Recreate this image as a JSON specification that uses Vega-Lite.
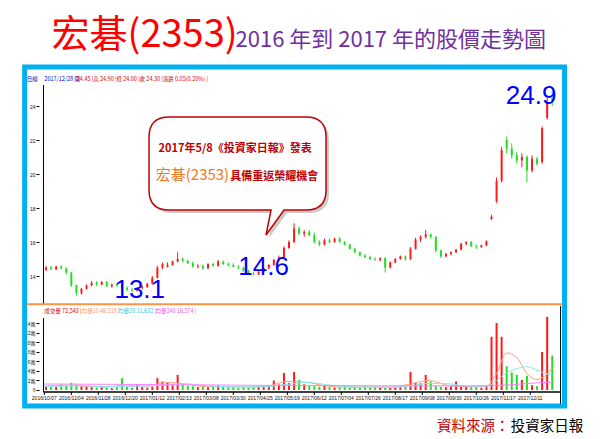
{
  "$schema": "https://vega.github.io/schema/vega-lite/v6.json",
  "width": 600,
  "height": 439,
  "padding": 0,
  "autosize": {"type": "none"},
  "background": "white",
  "config": {
    "view": {"stroke": null},
    "font": "Noto Sans CJK TC",
    "axis": {"grid": false, "domain": false, "labelFontSize": 5, "labelFont": "Liberation Sans", "labelColor": "#111111", "tickColor": "#000000", "tickSize": 3, "labelPadding": 1}
  },
  "data": {"values": [{}]},
  "datasets": {
    "k": [
      {"i":1,"o":14.35,"h":14.6,"l":14.3,"c":14.5,"v":0.8},
      {"i":4,"o":14.5,"h":14.6,"l":14.35,"c":14.4,"v":0.6},
      {"i":7,"o":14.4,"h":14.6,"l":14.35,"c":14.55,"v":0.7},
      {"i":10,"o":14.55,"h":14.65,"l":14.4,"c":14.45,"v":1.2},
      {"i":13,"o":14.45,"h":14.5,"l":14.1,"c":14.2,"v":0.9},
      {"i":16,"o":14.2,"h":14.25,"l":13.35,"c":13.45,"v":1.5},
      {"i":19,"o":13.45,"h":13.5,"l":12.85,"c":13.0,"v":1.2},
      {"i":22,"o":13.0,"h":13.3,"l":12.9,"c":13.25,"v":0.9},
      {"i":25,"o":13.25,"h":13.5,"l":13.2,"c":13.45,"v":0.8},
      {"i":28,"o":13.45,"h":13.7,"l":13.4,"c":13.6,"v":0.6},
      {"i":31,"o":13.6,"h":13.7,"l":13.4,"c":13.5,"v":0.5},
      {"i":34,"o":13.5,"h":13.7,"l":13.45,"c":13.65,"v":0.6},
      {"i":37,"o":13.65,"h":13.7,"l":13.35,"c":13.4,"v":0.5},
      {"i":40,"o":13.4,"h":13.55,"l":13.3,"c":13.5,"v":0.4},
      {"i":43,"o":13.5,"h":13.6,"l":13.35,"c":13.45,"v":0.6},
      {"i":46,"o":13.45,"h":13.55,"l":13.2,"c":13.3,"v":2.5},
      {"i":49,"o":13.3,"h":13.4,"l":13.1,"c":13.2,"v":0.7},
      {"i":52,"o":13.2,"h":13.3,"l":13.05,"c":13.15,"v":0.5},
      {"i":55,"o":13.15,"h":13.35,"l":13.1,"c":13.3,"v":1.1},
      {"i":58,"o":13.3,"h":13.45,"l":13.2,"c":13.35,"v":0.6},
      {"i":61,"o":13.35,"h":13.6,"l":13.3,"c":13.55,"v":0.5},
      {"i":64,"o":13.55,"h":14.0,"l":13.5,"c":13.9,"v":0.7},
      {"i":67,"o":13.9,"h":14.6,"l":13.85,"c":14.5,"v":2.5},
      {"i":70,"o":14.5,"h":14.8,"l":14.4,"c":14.7,"v":1.8},
      {"i":73,"o":14.55,"h":14.8,"l":14.5,"c":14.65,"v":1.5},
      {"i":76,"o":14.65,"h":14.9,"l":14.6,"c":14.85,"v":1.0},
      {"i":79,"o":14.85,"h":15.4,"l":14.8,"c":15.0,"v":3.2},
      {"i":82,"o":15.0,"h":15.1,"l":14.8,"c":14.9,"v":1.2},
      {"i":85,"o":14.9,"h":14.95,"l":14.7,"c":14.75,"v":0.9},
      {"i":88,"o":14.75,"h":14.85,"l":14.5,"c":14.55,"v":0.8},
      {"i":91,"o":14.55,"h":14.7,"l":14.45,"c":14.6,"v":0.6},
      {"i":94,"o":14.6,"h":14.65,"l":14.35,"c":14.45,"v":0.7},
      {"i":97,"o":14.45,"h":14.75,"l":14.4,"c":14.7,"v":0.6},
      {"i":100,"o":14.7,"h":14.8,"l":14.55,"c":14.6,"v":0.9},
      {"i":103,"o":14.6,"h":14.95,"l":14.55,"c":14.85,"v":1.0},
      {"i":106,"o":14.85,"h":14.9,"l":14.65,"c":14.7,"v":0.7},
      {"i":109,"o":14.7,"h":14.8,"l":14.55,"c":14.65,"v":0.6},
      {"i":112,"o":14.65,"h":14.75,"l":14.5,"c":14.55,"v":0.6},
      {"i":115,"o":14.55,"h":14.65,"l":14.4,"c":14.5,"v":0.5},
      {"i":118,"o":14.5,"h":14.55,"l":14.25,"c":14.3,"v":0.6},
      {"i":121,"o":14.3,"h":14.35,"l":14.1,"c":14.15,"v":0.5},
      {"i":124,"o":14.15,"h":14.25,"l":14.05,"c":14.1,"v":0.6},
      {"i":127,"o":14.1,"h":14.3,"l":14.05,"c":14.25,"v":0.8},
      {"i":130,"o":14.25,"h":14.5,"l":14.2,"c":14.45,"v":0.9},
      {"i":133,"o":14.45,"h":14.7,"l":14.4,"c":14.65,"v":1.0},
      {"i":136,"o":14.65,"h":15.0,"l":14.6,"c":14.95,"v":2.0},
      {"i":139,"o":14.95,"h":15.2,"l":14.85,"c":15.1,"v":1.2},
      {"i":142,"o":15.1,"h":15.75,"l":15.05,"c":15.65,"v":3.6},
      {"i":145,"o":15.65,"h":16.1,"l":15.6,"c":16.0,"v":1.5},
      {"i":148,"o":16.0,"h":17.1,"l":15.95,"c":16.8,"v":3.8},
      {"i":151,"o":16.8,"h":16.9,"l":16.4,"c":16.5,"v":2.1},
      {"i":154,"o":16.5,"h":16.7,"l":16.3,"c":16.6,"v":1.2},
      {"i":157,"o":16.6,"h":16.7,"l":16.35,"c":16.4,"v":1.0},
      {"i":160,"o":16.4,"h":16.55,"l":15.9,"c":16.0,"v":0.8},
      {"i":163,"o":16.0,"h":16.1,"l":15.75,"c":15.85,"v":0.7},
      {"i":166,"o":15.85,"h":16.2,"l":15.8,"c":16.1,"v":0.9},
      {"i":169,"o":16.1,"h":16.2,"l":15.9,"c":16.0,"v":0.6},
      {"i":172,"o":16.0,"h":16.25,"l":15.95,"c":16.2,"v":0.5},
      {"i":175,"o":16.2,"h":16.3,"l":15.95,"c":16.0,"v":0.6},
      {"i":178,"o":16.0,"h":16.05,"l":15.8,"c":15.85,"v":1.0},
      {"i":181,"o":15.85,"h":15.9,"l":15.55,"c":15.6,"v":0.5},
      {"i":184,"o":15.6,"h":15.65,"l":15.35,"c":15.4,"v":0.6},
      {"i":187,"o":15.4,"h":15.45,"l":15.15,"c":15.2,"v":0.5},
      {"i":190,"o":15.2,"h":15.3,"l":15.05,"c":15.1,"v":0.8},
      {"i":193,"o":15.1,"h":15.2,"l":14.95,"c":15.0,"v":0.6},
      {"i":196,"o":15.0,"h":15.1,"l":14.9,"c":14.95,"v":0.7},
      {"i":199,"o":14.95,"h":15.1,"l":14.85,"c":15.05,"v":0.5},
      {"i":202,"o":15.05,"h":15.1,"l":14.2,"c":14.5,"v":0.6},
      {"i":205,"o":14.5,"h":14.85,"l":14.45,"c":14.8,"v":0.4},
      {"i":208,"o":14.8,"h":15.05,"l":14.75,"c":15.0,"v":0.5},
      {"i":211,"o":15.0,"h":15.2,"l":14.95,"c":15.15,"v":0.6},
      {"i":214,"o":15.15,"h":15.2,"l":14.9,"c":15.0,"v":0.8},
      {"i":217,"o":15.0,"h":15.7,"l":14.95,"c":15.6,"v":3.8},
      {"i":220,"o":15.6,"h":16.25,"l":15.55,"c":16.15,"v":1.5},
      {"i":223,"o":16.15,"h":16.4,"l":16.0,"c":16.3,"v":1.4},
      {"i":226,"o":16.3,"h":16.7,"l":16.2,"c":16.45,"v":3.2},
      {"i":229,"o":16.45,"h":16.5,"l":16.2,"c":16.3,"v":1.8},
      {"i":232,"o":16.3,"h":16.35,"l":15.4,"c":15.5,"v":0.9},
      {"i":235,"o":15.5,"h":15.55,"l":15.05,"c":15.15,"v":0.7},
      {"i":238,"o":15.15,"h":15.35,"l":15.1,"c":15.3,"v":0.6},
      {"i":241,"o":15.3,"h":15.45,"l":15.2,"c":15.4,"v":0.8},
      {"i":244,"o":15.4,"h":15.6,"l":15.35,"c":15.55,"v":1.8},
      {"i":247,"o":15.55,"h":15.95,"l":15.5,"c":15.9,"v":0.9},
      {"i":250,"o":15.9,"h":16.05,"l":15.8,"c":16.0,"v":0.7},
      {"i":253,"o":16.0,"h":16.05,"l":15.7,"c":15.75,"v":0.6},
      {"i":256,"o":15.75,"h":15.85,"l":15.6,"c":15.7,"v":0.6},
      {"i":259,"o":15.7,"h":15.85,"l":15.65,"c":15.8,"v":0.5},
      {"i":262,"o":15.8,"h":16.1,"l":15.75,"c":16.05,"v":0.9},
      {"i":265,"o":17.35,"h":17.6,"l":17.3,"c":17.5,"v":11.2},
      {"i":268,"o":18.4,"h":19.8,"l":18.3,"c":19.6,"v":14.1},
      {"i":271,"o":19.6,"h":21.6,"l":19.5,"c":21.4,"v":11.2},
      {"i":274,"o":22.0,"h":22.2,"l":21.2,"c":21.5,"v":5.0},
      {"i":277,"o":21.5,"h":21.8,"l":20.9,"c":21.1,"v":3.7},
      {"i":280,"o":21.1,"h":21.3,"l":20.6,"c":20.8,"v":3.2},
      {"i":283,"o":20.8,"h":21.2,"l":20.4,"c":21.0,"v":2.1},
      {"i":286,"o":21.0,"h":21.1,"l":19.5,"c":20.2,"v":3.0},
      {"i":289,"o":20.2,"h":21.1,"l":20.1,"c":20.9,"v":1.0},
      {"i":292,"o":20.9,"h":21.0,"l":20.5,"c":20.6,"v":0.8},
      {"i":295,"o":20.7,"h":22.8,"l":20.6,"c":22.7,"v":8.0},
      {"i":298,"o":23.3,"h":24.5,"l":23.2,"c":24.25,"v":15.4},
      {"i":301,"o":24.45,"h":24.9,"l":24.0,"c":24.3,"v":7.25}
    ],
    "ma": [
      {"i":0,"a":0.8,"b":0.75,"m":1.25},
      {"i":12,"a":1.0,"b":0.85,"m":1.25},
      {"i":24,"a":0.8,"b":0.9,"m":1.22},
      {"i":36,"a":0.6,"b":0.7,"m":1.2},
      {"i":48,"a":1.0,"b":0.8,"m":1.18},
      {"i":60,"a":0.7,"b":0.8,"m":1.15},
      {"i":72,"a":1.6,"b":1.1,"m":1.12},
      {"i":84,"a":1.2,"b":1.3,"m":1.1},
      {"i":96,"a":0.7,"b":0.9,"m":1.07},
      {"i":108,"a":0.7,"b":0.7,"m":1.04},
      {"i":120,"a":0.6,"b":0.65,"m":1.0},
      {"i":132,"a":0.8,"b":0.7,"m":0.98},
      {"i":144,"a":1.8,"b":1.2,"m":0.97},
      {"i":156,"a":1.6,"b":1.6,"m":0.96},
      {"i":168,"a":0.8,"b":1.1,"m":0.94},
      {"i":180,"a":0.6,"b":0.7,"m":0.92},
      {"i":192,"a":0.6,"b":0.6,"m":0.9},
      {"i":204,"a":0.6,"b":0.6,"m":0.88},
      {"i":216,"a":1.2,"b":0.8,"m":0.87},
      {"i":228,"a":2.0,"b":1.4,"m":0.87},
      {"i":240,"a":0.9,"b":1.3,"m":0.86},
      {"i":252,"a":0.7,"b":0.8,"m":0.86},
      {"i":262,"a":0.8,"b":0.8,"m":0.88},
      {"i":268,"a":3.5,"b":2.0,"m":0.95},
      {"i":274,"a":7.8,"b":3.6,"m":1.05},
      {"i":280,"a":6.8,"b":4.5,"m":1.2},
      {"i":286,"a":3.5,"b":4.9,"m":1.35},
      {"i":292,"a":2.2,"b":4.2,"m":1.5},
      {"i":296,"a":2.8,"b":3.6,"m":1.58},
      {"i":301,"a":4.6,"b":3.2,"m":1.66}
    ],
    "dates": [
      {"i":0,"t":"2016/10/07"},{"i":16,"t":"2016/11/04"},{"i":32,"t":"2016/11/28"},{"i":48,"t":"2016/12/20"},
      {"i":64,"t":"2017/01/12"},{"i":80,"t":"2017/02/13"},{"i":96,"t":"2017/03/08"},{"i":112,"t":"2017/03/30"},
      {"i":128,"t":"2017/04/25"},{"i":144,"t":"2017/05/19"},{"i":160,"t":"2017/06/12"},{"i":176,"t":"2017/07/04"},
      {"i":192,"t":"2017/07/26"},{"i":208,"t":"2017/08/17"},{"i":224,"t":"2017/09/08"},{"i":240,"t":"2017/09/30"},
      {"i":256,"t":"2017/10/26"},{"i":272,"t":"2017/11/17"},{"i":288,"t":"2017/12/11"}
    ]
  },
  "resolve": {"scale": {"y": "independent"}},
  "layer": [
    {
      "data": {"name": "k"},
      "mark": {"type": "bar", "width": 2},
      "encoding": {
        "x": {"field": "i", "type": "quantitative", "scale": {"domain": [-23.31, 326.34], "nice": false, "zero": false}, "axis": null},
        "y": {"field": "v", "type": "quantitative", "stack": null, "scale": {"domain": [-10.316, 82.105], "nice": false, "zero": false}, "axis": {"values": [0, 2, 4, 6, 8, 10, 12, 14], "labelExpr": "datum.value == 0 ? '0' : datum.value + '萬'", "orient": "left", "offset": -39, "title": null, "labelFont": "Noto Sans CJK TC"}},
        "color": {"condition": {"test": "datum.c >= datum.o", "value": "#FF1A1A"}, "value": "#22DD22"}
      }
    },
    {
      "data": {"name": "ma"},
      "mark": {"type": "line", "color": "#FFA07A", "strokeWidth": 1, "interpolate": "monotone"},
      "encoding": {"x": {"field": "i", "type": "quantitative", "axis": null}, "y": {"field": "a", "type": "quantitative", "scale": {"domain": [-10.316, 82.105], "nice": false, "zero": false}, "axis": null}}
    },
    {
      "data": {"name": "ma"},
      "mark": {"type": "line", "color": "#80E8F5", "strokeWidth": 1, "interpolate": "monotone"},
      "encoding": {"x": {"field": "i", "type": "quantitative", "axis": null}, "y": {"field": "b", "type": "quantitative", "scale": {"domain": [-10.316, 82.105], "nice": false, "zero": false}, "axis": null}}
    },
    {
      "data": {"name": "ma"},
      "mark": {"type": "line", "color": "#FF80FF", "strokeWidth": 1, "interpolate": "monotone"},
      "encoding": {"x": {"field": "i", "type": "quantitative", "axis": null}, "y": {"field": "m", "type": "quantitative", "scale": {"domain": [-10.316, 82.105], "nice": false, "zero": false}, "axis": null}}
    },
    {
      "data": {"name": "dates"},
      "mark": {"type": "rule", "color": "#000000", "strokeWidth": 1},
      "encoding": {"x": {"field": "i", "type": "quantitative", "axis": null}, "y": {"datum": -0.421, "scale": {"domain": [-10.316, 82.105], "nice": false, "zero": false}, "axis": null}, "y2": {"datum": -1.05}}
    },
    {
      "data": {"name": "dates"},
      "mark": {"type": "text", "font": "Liberation Sans", "fontSize": 5, "color": "#111111", "align": "center", "baseline": "middle"},
      "encoding": {"x": {"field": "i", "type": "quantitative", "axis": null}, "y": {"datum": -1.75, "scale": {"domain": [-10.316, 82.105], "nice": false, "zero": false}, "axis": null}, "text": {"field": "t"}}
    },
    {
      "mark": {"type": "rule", "color": "#000000", "strokeWidth": 1},
      "encoding": {"x": {"datum": -0.5, "axis": null}, "y": {"datum": 15.16, "scale": {"domain": [-10.316, 82.105], "nice": false, "zero": false}, "axis": null}, "y2": {"datum": -0.421}}
    },
    {
      "mark": {"type": "rule", "color": "#000000", "strokeWidth": 1.5},
      "encoding": {"x": {"datum": -0.5, "axis": null}, "x2": {"datum": 305.94}, "y": {"datum": -0.421, "scale": {"domain": [-10.316, 82.105], "nice": false, "zero": false}, "axis": null}}
    },
    {
      "mark": {"type": "rule", "color": "#000000", "strokeWidth": 1},
      "encoding": {"x": {"datum": 305.94, "axis": null}, "y": {"datum": 17.68, "scale": {"domain": [-10.316, 82.105], "nice": false, "zero": false}, "axis": null}, "y2": {"datum": -2.947}}
    },
    {
      "mark": {"type": "text", "font": "Noto Sans CJK TC", "fontSize": 5.5, "color": "#E00000", "align": "left", "baseline": "middle"},
      "encoding": {"x": {"datum": 0, "axis": null}, "y": {"datum": 16.63, "scale": {"domain": [-10.316, 82.105], "nice": false, "zero": false}, "axis": null}, "text": {"value": "成交量 72,543 |"}}
    },
    {
      "mark": {"type": "text", "font": "Noto Sans CJK TC", "fontSize": 5.5, "color": "#FF9966", "align": "left", "baseline": "middle"},
      "encoding": {"x": {"datum": 22.14, "axis": null}, "y": {"datum": 16.63, "scale": {"domain": [-10.316, 82.105], "nice": false, "zero": false}, "axis": null}, "text": {"value": "均量10 46,218 |"}}
    },
    {
      "mark": {"type": "text", "font": "Noto Sans CJK TC", "fontSize": 5.5, "color": "#33CCDD", "align": "left", "baseline": "middle"},
      "encoding": {"x": {"datum": 43.71, "axis": null}, "y": {"datum": 16.63, "scale": {"domain": [-10.316, 82.105], "nice": false, "zero": false}, "axis": null}, "text": {"value": "均量20 31,632 |"}}
    },
    {
      "mark": {"type": "text", "font": "Noto Sans CJK TC", "fontSize": 5.5, "color": "#EE55EE", "align": "left", "baseline": "middle"},
      "encoding": {"x": {"datum": 65.85, "axis": null}, "y": {"datum": 16.63, "scale": {"domain": [-10.316, 82.105], "nice": false, "zero": false}, "axis": null}, "text": {"value": "均量240 16,574 |"}}
    },
    {
      "mark": {"type": "rect", "filled": false, "stroke": "#00B0F0", "strokeWidth": 5},
      "encoding": {
        "x": {"datum": -11.655, "axis": null},
        "x2": {"datum": 308.28},
        "y": {"datum": 26.294, "scale": {"domain": [4.4118, 30.2353], "nice": false, "zero": false}, "axis": null},
        "y2": {"datum": 6.353}
      }
    },
    {
      "mark": {"type": "rule", "color": "#000000", "strokeWidth": 1},
      "encoding": {"x": {"datum": -0.5, "axis": null}, "y": {"datum": 25.235, "scale": {"domain": [4.4118, 30.2353], "nice": false, "zero": false}, "axis": null}, "y2": {"datum": 12.353}}
    },
    {
      "mark": {"type": "rule", "color": "#F79646", "strokeWidth": 2},
      "encoding": {"x": {"datum": -10.49, "axis": null}, "x2": {"datum": 307.1}, "y": {"datum": 12.335, "scale": {"domain": [4.4118, 30.2353], "nice": false, "zero": false}, "axis": null}}
    },
    {
      "data": {"name": "k"},
      "mark": {"type": "rule", "strokeWidth": 1},
      "encoding": {
        "x": {"field": "i", "type": "quantitative", "axis": null},
        "y": {"field": "l", "type": "quantitative", "scale": {"domain": [4.4118, 30.2353], "nice": false, "zero": false}, "axis": {"values": [14, 16, 18, 20, 22, 24], "orient": "left", "offset": -39, "title": null}},
        "y2": {"field": "h"},
        "color": {"condition": {"test": "datum.c >= datum.o", "value": "#FF1A1A"}, "value": "#22DD22"}
      }
    },
    {
      "data": {"name": "k"},
      "mark": {"type": "bar", "width": 2},
      "encoding": {
        "x": {"field": "i", "type": "quantitative", "axis": null},
        "y": {"field": "o", "type": "quantitative", "scale": {"domain": [4.4118, 30.2353], "nice": false, "zero": false}, "axis": null},
        "y2": {"field": "c"},
        "color": {"condition": {"test": "datum.c >= datum.o", "value": "#FF1A1A"}, "value": "#22DD22"}
      }
    },
    {
      "mark": {"type": "point", "shape": "M-0.685,-0.465L0.685,-0.465Q0.885,-0.465 0.885,-0.265L0.885,0.265Q0.885,0.465 0.685,0.465L0.465,0.465L0.285,0.715L0.335,0.465L-0.685,0.465Q-0.885,0.465 -0.885,0.265L-0.885,-0.265Q-0.885,-0.465 -0.685,-0.465Z", "size": 40000, "filled": true, "fill": "#888888", "opacity": 0.45, "strokeWidth": 0},
      "encoding": {"x": {"datum": 116.25, "axis": null}, "y": {"datum": 20.441, "scale": {"domain": [4.4118, 30.2353], "nice": false, "zero": false}, "axis": null}}
    },
    {
      "mark": {"type": "point", "shape": "M-0.685,-0.465L0.685,-0.465Q0.885,-0.465 0.885,-0.265L0.885,0.265Q0.885,0.465 0.685,0.465L0.465,0.465L0.285,0.715L0.335,0.465L-0.685,0.465Q-0.885,0.465 -0.885,0.265L-0.885,-0.265Q-0.885,-0.465 -0.685,-0.465Z", "size": 40000, "filled": true, "fill": "#FFFFFF", "stroke": "#C00000", "strokeWidth": 1.5, "opacity": 1},
      "encoding": {"x": {"datum": 114.5, "axis": null}, "y": {"datum": 20.618, "scale": {"domain": [4.4118, 30.2353], "nice": false, "zero": false}, "axis": null}}
    },
    {
      "mark": {"type": "text", "font": "Noto Sans CJK TC", "fontSize": 11, "fontWeight": "bold", "color": "#C00000", "align": "center", "baseline": "alphabetic"},
      "encoding": {"x": {"datum": 113.05, "axis": null}, "y": {"datum": 21.294, "scale": {"domain": [4.4118, 30.2353], "nice": false, "zero": false}, "axis": null}, "text": {"value": "2017年5/8《投資家日報》發表"}}
    },
    {
      "mark": {"type": "text", "font": "Noto Sans CJK TC", "fontSize": 15, "color": "#F07820", "align": "right", "baseline": "alphabetic"},
      "encoding": {"x": {"datum": 109.56, "axis": null}, "y": {"datum": 19.647, "scale": {"domain": [4.4118, 30.2353], "nice": false, "zero": false}, "axis": null}, "text": {"value": "宏碁(2353)"}}
    },
    {
      "mark": {"type": "text", "font": "Noto Sans CJK TC", "fontSize": 11, "fontWeight": "bold", "color": "#C00000", "align": "left", "baseline": "alphabetic"},
      "encoding": {"x": {"datum": 110.14, "axis": null}, "y": {"datum": 19.647, "scale": {"domain": [4.4118, 30.2353], "nice": false, "zero": false}, "axis": null}, "text": {"value": "具備重返榮耀機會"}}
    },
    {
      "mark": {"type": "text", "font": "Noto Sans CJK TC", "fontSize": 38, "color": "#FF0000", "align": "left", "baseline": "alphabetic"},
      "encoding": {"x": {"datum": 4.3, "axis": null}, "y": {"datum": 27.471, "scale": {"domain": [4.4118, 30.2353], "nice": false, "zero": false}, "axis": null}, "text": {"value": "宏碁(2353)"}}
    },
    {
      "mark": {"type": "text", "font": "Noto Sans CJK TC", "fontSize": 22, "color": "#7030A0", "align": "left", "baseline": "alphabetic"},
      "encoding": {"x": {"datum": 113.3, "axis": null}, "y": {"datum": 27.471, "scale": {"domain": [4.4118, 30.2353], "nice": false, "zero": false}, "axis": null}, "text": {"value": "2016 年到 2017 年的股價走勢圖"}}
    },
    {
      "mark": {"type": "text", "font": "Noto Sans CJK TC", "fontSize": 5.5, "color": "#0000CC", "align": "left", "baseline": "middle"},
      "encoding": {"x": {"datum": -10.49, "axis": null}, "y": {"datum": 25.559, "scale": {"domain": [4.4118, 30.2353], "nice": false, "zero": false}, "axis": null}, "text": {"value": "日線"}}
    },
    {
      "mark": {"type": "text", "font": "Noto Sans CJK TC", "fontSize": 5.5, "color": "#0000CC", "align": "left", "baseline": "middle"},
      "encoding": {"x": {"datum": 0, "axis": null}, "y": {"datum": 25.559, "scale": {"domain": [4.4118, 30.2353], "nice": false, "zero": false}, "axis": null}, "text": {"value": "2017/12/28 開"}}
    },
    {
      "mark": {"type": "text", "font": "Noto Sans CJK TC", "fontSize": 5.5, "color": "#E00000", "align": "left", "baseline": "middle"},
      "encoding": {"x": {"datum": 19.23, "axis": null}, "y": {"datum": 25.559, "scale": {"domain": [4.4118, 30.2353], "nice": false, "zero": false}, "axis": null}, "text": {"value": "24.45 |高 24.90 |低 24.00 |收 24.30 |漲跌 0.05(0.20%) |"}}
    },
    {
      "mark": {"type": "text", "font": "Liberation Sans Narrow, Liberation Sans", "fontSize": 26, "color": "#0000FF", "align": "center", "baseline": "alphabetic"},
      "encoding": {"x": {"datum": 56.53, "axis": null}, "y": {"datum": 12.7, "scale": {"domain": [4.4118, 30.2353], "nice": false, "zero": false}, "axis": null}, "text": {"value": "13.1"}}
    },
    {
      "mark": {"type": "text", "font": "Liberation Sans Narrow, Liberation Sans", "fontSize": 26, "color": "#0000FF", "align": "center", "baseline": "alphabetic"},
      "encoding": {"x": {"datum": 129.95, "axis": null}, "y": {"datum": 14.06, "scale": {"domain": [4.4118, 30.2353], "nice": false, "zero": false}, "axis": null}, "text": {"value": "14.6"}}
    },
    {
      "mark": {"type": "text", "font": "Liberation Sans Narrow, Liberation Sans", "fontSize": 26, "color": "#0000FF", "align": "center", "baseline": "alphabetic"},
      "encoding": {"x": {"datum": 288.5, "axis": null}, "y": {"datum": 24.12, "scale": {"domain": [4.4118, 30.2353], "nice": false, "zero": false}, "axis": null}, "text": {"value": "24.9"}}
    },
    {
      "mark": {"type": "text", "font": "Noto Sans CJK TC", "fontSize": 14.5, "color": "#C00000", "align": "right", "baseline": "alphabetic"},
      "encoding": {"x": {"datum": 275.64, "axis": null}, "y": {"datum": 4.882, "scale": {"domain": [4.4118, 30.2353], "nice": false, "zero": false}, "axis": null}, "text": {"value": "資料來源："}}
    },
    {
      "mark": {"type": "text", "font": "Noto Sans CJK TC", "fontSize": 14.5, "color": "#000000", "align": "right", "baseline": "alphabetic"},
      "encoding": {"x": {"datum": 319.35, "axis": null}, "y": {"datum": 4.882, "scale": {"domain": [4.4118, 30.2353], "nice": false, "zero": false}, "axis": null}, "text": {"value": "投資家日報"}}
    }
  ]
}
